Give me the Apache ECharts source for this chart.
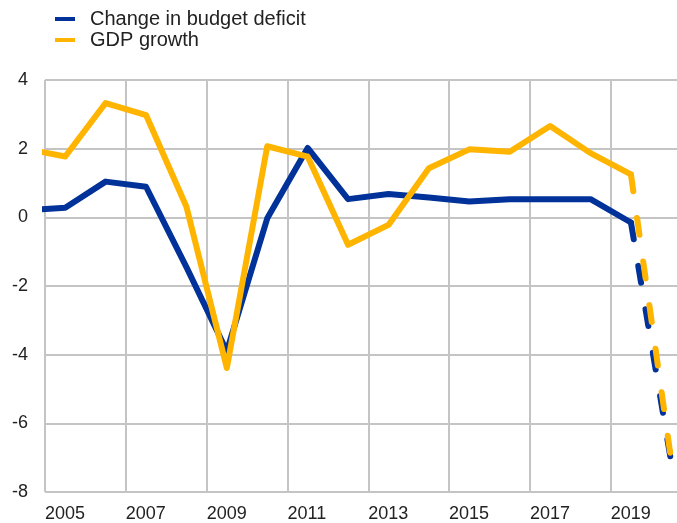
<!DOCTYPE html>
<html>
<head>
<meta charset="utf-8">
<script src="https://cdn.jsdelivr.net/npm/echarts@6/dist/echarts.min.js"></script>
<style>
	html, body { margin: 0; padding: 0; background: #fff; }
	#chart { width: 677px; height: 523px; }
</style>
</head>
<body>
<div id="chart"></div>
<script>
// annual values, plotted at mid-year
var years = [2004, 2005, 2006, 2007, 2008, 2009, 2010, 2011, 2012, 2013, 2014, 2015, 2016, 2017, 2018, 2019, 2020];
var budgetDeficit = [0.2, 0.28, 1.04, 0.89, -1.45, -3.9, -0.03, 2.02, 0.53, 0.68, 0.58, 0.46, 0.53, 0.53, 0.53, -0.15, -7.15];
var gdpGrowth = [2.0, 1.77, 3.33, 2.98, 0.31, -4.39, 2.07, 1.77, -0.8, -0.22, 1.43, 1.98, 1.91, 2.66, 1.87, 1.25, -7.1];
var projectionStart = 2019; // last segment is a projection (dashed)
var yearLabels = [2005, 2007, 2009, 2011, 2013, 2015, 2017, 2019];

var blue = '#003299';
var yellow = '#FFB400';
var gridColor = '#C4C4C4';
var font = 'Liberation Sans, Arial, sans-serif';

function toPoints(values, from, to) {
	var pts = [];
	for (var i = 0; i < years.length; i++) {
		if (years[i] >= from && years[i] <= to) {
			pts.push([years[i] + 0.5, values[i]]);
		}
	}
	return pts;
}

function makeSeries(name, values, color) {
	return [{
		name: name,
		type: 'line',
		data: toPoints(values, years[0], projectionStart),
		symbol: 'none',
		color: color,
		lineStyle: { color: color, width: 6, join: 'round', cap: 'round' }
	}, {
		name: name,
		type: 'line',
		data: toPoints(values, projectionStart, years[years.length - 1]),
		symbol: 'none',
		color: color,
		lineStyle: { color: color, width: 6, type: [17, 27], cap: 'round' }
	}];
}

var chart = echarts.init(document.getElementById('chart'));

var option = {
	animation: false,
	legend: {
		data: ['Change in budget deficit', 'GDP growth'],
		orient: 'vertical',
		left: 50,
		top: 4,
		icon: 'rect',
		itemWidth: 20,
		itemHeight: 4,
		itemGap: 1,
		textStyle: { fontFamily: font, fontSize: 20, color: '#222', padding: [0, 0, 0, 10] }
	},
	grid: { left: 45, right: 0, top: 80, bottom: 31, containLabel: false },
	xAxis: {
		type: 'value',
		min: 2005,
		max: 2020.64,
		interval: 2,
		axisLine: { show: false },
		axisTick: { show: false },
		splitLine: { show: true, showMaxLine: false, lineStyle: { color: gridColor, width: 2 } },
		axisLabel: {
			show: true,
			align: 'left',
			margin: 13,
			showMaxLabel: false,
			fontFamily: font,
			fontSize: 18,
			color: '#222',
			formatter: function (v) {
				return yearLabels.indexOf(v) >= 0 ? String(v) : '';
			}
		}
	},
	yAxis: {
		type: 'value',
		min: -8,
		max: 4,
		interval: 2,
		axisLine: { show: false },
		axisTick: { show: false },
		splitLine: { show: true, lineStyle: { color: gridColor, width: 2 } },
		axisLabel: { margin: 17, fontFamily: font, fontSize: 18, color: '#222' }
	},
	series: makeSeries('Change in budget deficit', budgetDeficit, blue)
		.concat(makeSeries('GDP growth', gdpGrowth, yellow))
};

chart.setOption(option);
</script>
</body>
</html>
